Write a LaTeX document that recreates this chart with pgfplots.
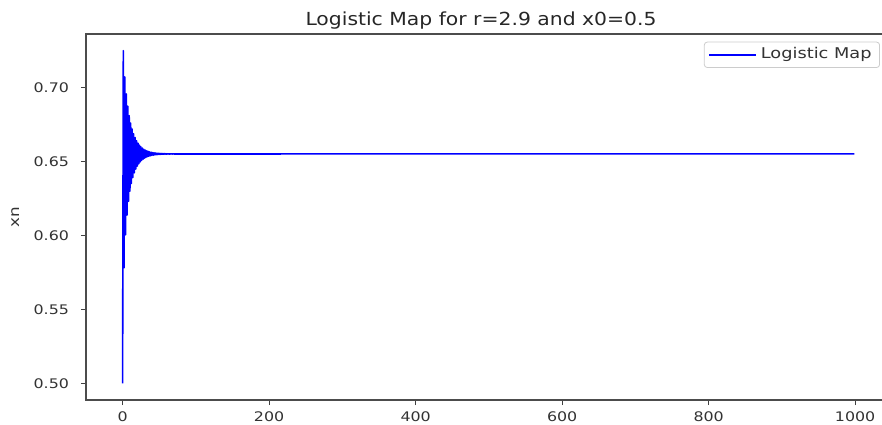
\documentclass[border=0pt]{standalone}
\usepackage{fontspec}
\setmainfont{DejaVu Sans}[FakeStretch=1.2]
\newfontfamily\titlefont{DejaVu Sans}[FakeStretch=1.13]
\usepackage{pgfplots}
\pgfplotsset{compat=1.18}

\pgfplotstableread{
n x
0 0.500000
1 0.725000
2 0.578188
3 0.707273
4 0.600411
5 0.695762
6 0.613863
7 0.687402
8 0.623152
9 0.681018
10 0.629973
11 0.676010
12 0.635159
13 0.672022
14 0.639184
15 0.668820
16 0.642349
17 0.666236
18 0.644859
19 0.664146
20 0.646861
21 0.662452
22 0.648466
23 0.661077
24 0.649756
25 0.659961
26 0.650795
27 0.659056
28 0.651633
29 0.658321
30 0.652309
31 0.657725
32 0.652855
33 0.657242
34 0.653297
35 0.656849
36 0.653655
37 0.656531
38 0.653944
39 0.656273
40 0.654178
41 0.656067
42 0.654364
43 0.655901
44 0.654514
45 0.655765
46 0.654637
47 0.655654
48 0.654737
49 0.655564
50 0.654819
51 0.655489
52 0.654887
53 0.655428
54 0.654942
55 0.655379
56 0.654986
57 0.655339
58 0.655022
59 0.655307
60 0.655051
61 0.655281
62 0.655074
63 0.655260
64 0.655093
65 0.655243
66 0.655108
67 0.655229
68 0.655121
69 0.655218
70 0.655131
999 0.655172
}\logmap

\begin{document}
\begin{tikzpicture}[x=1pt,y=1pt]
\begin{axis}[
  at={(43pt,12pt)}, anchor=south west,
  scale only axis, width=402.5pt, height=183pt,
  xmin=-49.95, xmax=1048.95, ymin=0.48875, ymax=0.73625,
  xtick={0,200,400,600,800,1000},
  ytick={0.50,0.55,0.60,0.65,0.70},
  xticklabel style={/pgf/number format/set thousands separator={}},
  yticklabel style={/pgf/number format/.cd, fixed, fixed zerofill, precision=2,
                    /tikz/.cd, xshift=-2.5pt},
  /pgf/number format/assume math mode=true,
  scaled y ticks=false,
  tick align=outside, xtick pos=bottom, ytick pos=left,
  major tick length=2.5pt,
  every tick/.style={black!75, line width=0.5pt},
  axis line style={black!70, line width=0.6pt},
  tick label style={font=\fontsize{6.6}{7}\selectfont, text=black!80},
  ylabel={xn},
  ylabel style={at={(axis description cs:-0.088,0.5)}, anchor=center,
                font=\fontsize{7}{8}\selectfont, text=black!80},
  legend style={at={(axis description cs:0.9863,0.979)}, anchor=north east,
                draw=black!20, rounded corners=1.5pt, inner xsep=2pt, inner ysep=0.8pt,
                font=\fontsize{7.4}{8}\selectfont, text=black!80},
  legend cell align=left,
  legend image code/.code={
    \draw[blue, line width=0.8pt] (0pt,0pt) -- (19pt,0pt);
    \path (0pt,0pt) -- (23.5pt,0pt);},
]
\addplot[blue, line width=0.8pt, line join=round] table[x=n, y=x] {\logmap};
\addlegendentry{Logistic Map}
\end{axis}
\node[anchor=base, text=black!85, font=\titlefont\fontsize{9}{10}\selectfont]
  at (240.5,199) {Logistic Map for r=2.9 and x0=0.5};
\pgfresetboundingbox
\useasboundingbox (0,0) rectangle (441,212);
\end{tikzpicture}
\end{document}
